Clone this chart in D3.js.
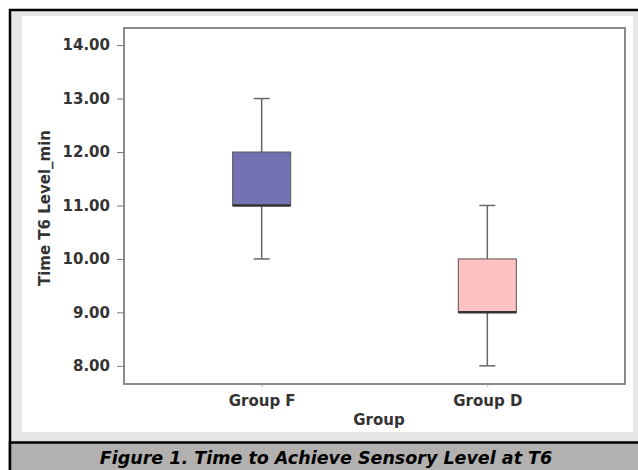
<!DOCTYPE html>
<html>
<head>
<meta charset="utf-8">
<script src="https://cdn.jsdelivr.net/npm/d3@7"></script>
<style>
  body { margin: 0; background: #fff; }
  svg { display: block; }
</style>
</head>
<body>
<div id="chart"></div>
<script>
// box plot values
const groups = ['Group F', 'Group D'];
const whiskerLow = [10, 8];
const q1 = [11, 9];
const medians = [11, 9];
const q3 = [12, 10];
const whiskerHigh = [13, 11];
const boxColours = ['#7373b3', '#ffc2c2'];
const yTicks = [8, 9, 10, 11, 12, 13, 14];

const W = 638, H = 470;
const plot = { left: 124, right: 625, top: 28, bottom: 384 };
const font = '"DejaVu Sans", Verdana, sans-serif';

const svg = d3.select('#chart')
    .append('svg')
    .attr('width', W)
    .attr('height', H);

// outer frame
svg.append('rect')
    .attr('x', 10).attr('y', 10)
    .attr('width', 640).attr('height', 470)
    .attr('fill', '#e6e6e6')
    .attr('stroke', '#000')
    .attr('stroke-width', 2.5);
svg.append('rect')
    .attr('x', 22).attr('y', 16)
    .attr('width', 611).attr('height', 416)
    .attr('fill', '#fff');

// caption band
svg.append('rect')
    .attr('x', 10).attr('y', 442.5)
    .attr('width', 640).attr('height', 40)
    .attr('fill', '#b3b1af')
    .attr('stroke', '#000')
    .attr('stroke-width', 2.5);
svg.append('text')
    .attr('x', 326).attr('y', 464)
    .attr('text-anchor', 'middle')
    .style('font-family', font)
    .style('font-weight', 'bold')
    .style('font-style', 'italic')
    .style('font-size', '17.5px')
    .attr('fill', '#000')
    .text('Figure 1. Time to Achieve Sensory Level at T6');

const y = d3.scaleLinear()
    .domain([7.66, 14.32])
    .range([plot.bottom, plot.top]);

const x = d3.scalePoint()
    .domain(groups)
    .range([plot.left, plot.right])
    .padding(0.61);

// plot frame
svg.append('rect')
    .attr('x', plot.left).attr('y', plot.top)
    .attr('width', plot.right - plot.left)
    .attr('height', plot.bottom - plot.top)
    .attr('fill', '#fff')
    .attr('stroke', '#8a8a8a')
    .attr('stroke-width', 2);

// y axis
const yAxis = svg.append('g')
    .attr('transform', `translate(${plot.left}, 0)`)
    .call(d3.axisLeft(y).tickValues(yTicks).tickFormat(d3.format('.2f')).tickSize(7).tickPadding(7));
yAxis.select('.domain').remove();
yAxis.selectAll('line').attr('stroke', '#777');
yAxis.selectAll('text')
    .style('font-family', font)
    .style('font-weight', 'bold')
    .style('font-size', '15px')
    .attr('fill', '#333');

// x axis
const xAxis = svg.append('g')
    .attr('transform', `translate(0, ${plot.bottom})`)
    .call(d3.axisBottom(x).tickSize(3).tickPadding(8));
xAxis.select('.domain').remove();
xAxis.selectAll('line').attr('stroke', '#aaa');
xAxis.selectAll('text')
    .style('font-family', font)
    .style('font-weight', 'bold')
    .style('font-size', '15px')
    .attr('fill', '#333');

// axis titles
svg.append('text')
    .attr('x', 379).attr('y', 425)
    .attr('text-anchor', 'middle')
    .style('font-family', font)
    .style('font-weight', 'bold')
    .style('font-size', '15px')
    .attr('fill', '#333')
    .text('Group');

svg.append('text')
    .attr('transform', `translate(50, ${(plot.top + plot.bottom) / 2 + 2}) rotate(-90)`)
    .attr('text-anchor', 'middle')
    .style('font-family', font)
    .style('font-weight', 'bold')
    .style('font-size', '15px')
    .attr('fill', '#333')
    .text('Time T6 Level_min');

// boxes
const boxes = groups.map((g, i) => ({
    group: g, low: whiskerLow[i], q1: q1[i], median: medians[i], q3: q3[i], high: whiskerHigh[i], colour: boxColours[i]
}));
const boxWidth = 58;
const capWidth = 16;

const boxG = svg.append('g')
    .selectAll('g')
    .data(boxes)
    .enter()
    .append('g')
    .attr('transform', d => `translate(${x(d.group)}, 0)`);

boxG.append('line')
    .attr('x1', 0).attr('x2', 0)
    .attr('y1', d => y(d.high))
    .attr('y2', d => y(d.low))
    .attr('stroke', '#666')
    .attr('stroke-width', 1.5);

boxG.append('line')
    .attr('x1', -capWidth / 2).attr('x2', capWidth / 2)
    .attr('y1', d => y(d.high)).attr('y2', d => y(d.high))
    .attr('stroke', '#666')
    .attr('stroke-width', 1.5);

boxG.append('line')
    .attr('x1', -capWidth / 2).attr('x2', capWidth / 2)
    .attr('y1', d => y(d.low)).attr('y2', d => y(d.low))
    .attr('stroke', '#666')
    .attr('stroke-width', 1.5);

boxG.append('rect')
    .attr('x', -boxWidth / 2)
    .attr('width', boxWidth)
    .attr('y', d => y(d.q3))
    .attr('height', d => y(d.q1) - y(d.q3))
    .attr('fill', d => d.colour)
    .attr('stroke', '#555')
    .attr('stroke-width', 1);

boxG.append('line')
    .attr('x1', -boxWidth / 2).attr('x2', boxWidth / 2)
    .attr('y1', d => y(d.median)).attr('y2', d => y(d.median))
    .attr('stroke', '#333')
    .attr('stroke-width', 2.5);
</script>
</body>
</html>
